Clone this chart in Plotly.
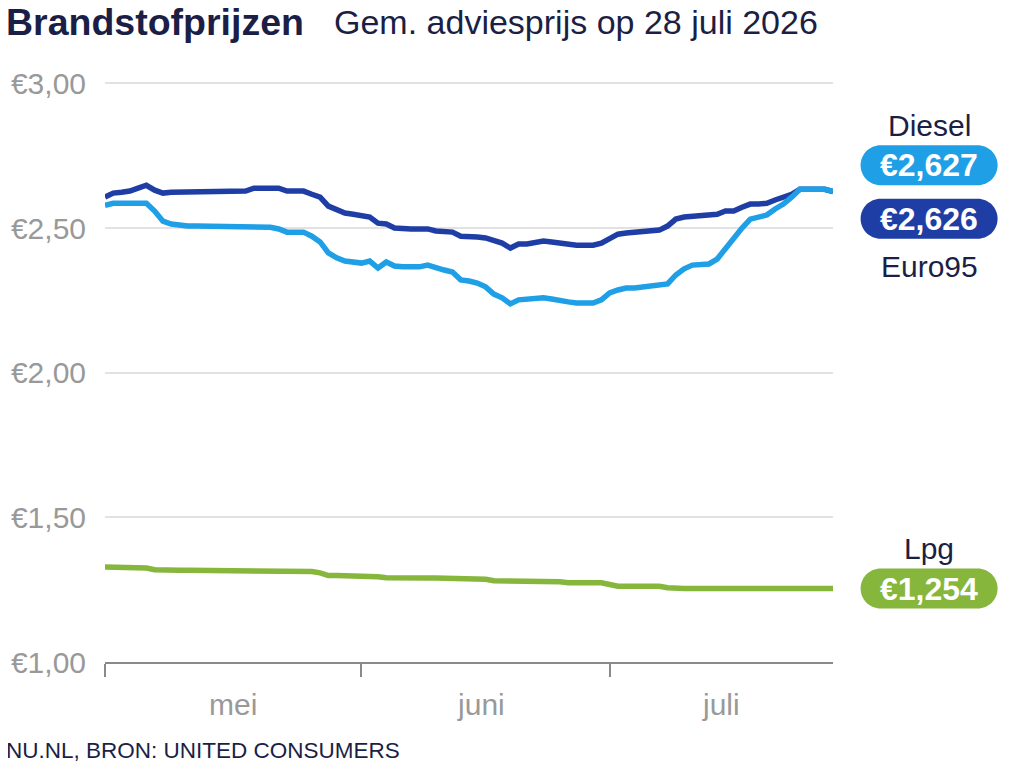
import pandas as pd
import plotly.graph_objects as go

# dagelijkse adviesprijzen, 1 mei t/m 28 juli 2026
dates = pd.date_range("2026-05-01", "2026-07-28", freq="D")

euro95 = [2.607, 2.621, 2.624, 2.628, 2.638, 2.648, 2.631, 2.621, 2.624, 2.624,
          2.624, 2.624, 2.628, 2.628, 2.628, 2.628, 2.628, 2.628, 2.638, 2.638,
          2.638, 2.638, 2.628, 2.628, 2.628, 2.617, 2.607, 2.576, 2.562, 2.552,
          2.548, 2.545, 2.538, 2.517, 2.514, 2.500, 2.497, 2.497, 2.497, 2.497,
          2.490, 2.490, 2.486, 2.472, 2.472, 2.469, 2.466, 2.459, 2.448, 2.431,
          2.445, 2.445, 2.448, 2.455, 2.452, 2.448, 2.445, 2.441, 2.441, 2.441,
          2.448, 2.462, 2.479, 2.483, 2.486, 2.486, 2.490, 2.493, 2.507, 2.531,
          2.538, 2.541, 2.541, 2.545, 2.548, 2.559, 2.559, 2.572, 2.583, 2.583,
          2.586, 2.597, 2.607, 2.617, 2.634, 2.634, 2.634, 2.634, 2.626]

diesel = [2.579, 2.586, 2.586, 2.586, 2.586, 2.586, 2.559, 2.524, 2.514, 2.510,
          2.507, 2.507, 2.507, 2.507, 2.507, 2.507, 2.507, 2.507, 2.507, 2.507,
          2.503, 2.497, 2.486, 2.486, 2.486, 2.472, 2.452, 2.414, 2.397, 2.386,
          2.383, 2.379, 2.386, 2.362, 2.383, 2.369, 2.366, 2.366, 2.366, 2.372,
          2.362, 2.355, 2.348, 2.321, 2.317, 2.310, 2.297, 2.272, 2.259, 2.238,
          2.252, 2.255, 2.259, 2.259, 2.255, 2.248, 2.245, 2.241, 2.241, 2.241,
          2.252, 2.276, 2.286, 2.293, 2.293, 2.297, 2.297, 2.303, 2.307, 2.338,
          2.359, 2.372, 2.376, 2.376, 2.393, 2.431, 2.469, 2.500, 2.531, 2.538,
          2.545, 2.566, 2.583, 2.607, 2.634, 2.634, 2.634, 2.634, 2.627]

lpg = [1.328, 1.328, 1.328, 1.328, 1.328, 1.325, 1.319, 1.317, 1.317, 1.317,
       1.317, 1.317, 1.317, 1.317, 1.317, 1.317, 1.317, 1.317, 1.317, 1.317,
       1.317, 1.317, 1.313, 1.313, 1.313, 1.313, 1.308, 1.299, 1.299, 1.299,
       1.299, 1.299, 1.299, 1.295, 1.291, 1.290, 1.290, 1.290, 1.290, 1.290,
       1.290, 1.290, 1.290, 1.290, 1.286, 1.286, 1.286, 1.281, 1.281, 1.281,
       1.281, 1.277, 1.277, 1.277, 1.277, 1.277, 1.274, 1.274, 1.274, 1.274,
       1.274, 1.268, 1.262, 1.262, 1.262, 1.262, 1.262, 1.262, 1.257, 1.254,
       1.254, 1.254, 1.254, 1.254, 1.254, 1.254, 1.254, 1.254, 1.254, 1.254,
       1.254, 1.254, 1.254, 1.254, 1.254, 1.254, 1.254, 1.254, 1.254]

month_pos = ["2026-05-16 12:00", "2026-06-15 12:00", "2026-07-14 12:00"]
month_text = ["mei", "juni", "juli"]
month_starts = ["2026-05-01", "2026-06-01", "2026-07-01"]
price_ticks = [1.0, 1.5, 2.0, 2.5, 3.0]

EUR = "\u20ac"
NAVY = "#1b1f45"
GREY = "#999999"
C_DIESEL = "#1e9fe6"
C_EURO = "#1f3ea5"
C_LPG = "#86b63c"
FONT = "Liberation Sans, Arial, sans-serif"


def pill(dy, w=137, h=40):
    # afgeronde badge, in pixels rond het ankerpunt
    r = h / 2
    a = w / 2 - r
    k = r * 0.552
    t, b = dy + r, dy - r
    return (f"M {-a},{b} L {a},{b} C {a + k},{b} {a + r},{dy - k} {a + r},{dy} "
            f"C {a + r},{dy + k} {a + k},{t} {a},{t} L {-a},{t} "
            f"C {-a - k},{t} {-a - r},{dy + k} {-a - r},{dy} "
            f"C {-a - r},{dy - k} {-a - k},{b} {-a},{b} Z")


def euro(v, dec=3):
    return EUR + f"{v:.{dec}f}".replace(".", ",")


fig = go.Figure()
fig.add_trace(go.Scatter(x=dates, y=euro95, mode="lines", name="Euro95",
                         line=dict(color=C_EURO, width=5.5)))
fig.add_trace(go.Scatter(x=dates, y=diesel, mode="lines", name="Diesel",
                         line=dict(color=C_DIESEL, width=5.5)))
fig.add_trace(go.Scatter(x=dates, y=lpg, mode="lines", name="Lpg",
                         line=dict(color=C_LPG, width=5.5)))

bx = 1.132
badges = [
    (diesel[-1], C_DIESEL, 26, "Diesel", 66),
    (euro95[-1], C_EURO, -27, "Euro95", -75),
    (lpg[-1], C_LPG, 0, "Lpg", 40),
]
for val, col, dy, label, ldy in badges:
    fig.add_shape(type="path", xref="paper", yref="y", xsizemode="pixel",
                  ysizemode="pixel", xanchor=bx, yanchor=val, path=pill(dy),
                  fillcolor=col, line_width=0, layer="above")
    fig.add_annotation(x=bx, y=val, xref="paper", yref="y", yshift=dy,
                       xanchor="center", yanchor="middle",
                       text="<b>" + euro(val) + "</b>", showarrow=False,
                       font=dict(family=FONT, size=32, color="white"))
    fig.add_annotation(x=bx, y=val, xref="paper", yref="y", yshift=ldy,
                       xanchor="center", yanchor="middle",
                       text=label, showarrow=False,
                       font=dict(family=FONT, size=30, color=NAVY))

fig.add_annotation(x=-0.139, y=1.1034, xref="paper", yref="paper",
                   xanchor="left", yanchor="middle", showarrow=False,
                   text="<b>Brandstofprijzen</b>",
                   font=dict(family=FONT, size=37.5, color=NAVY))
fig.add_annotation(x=0.3118, y=1.1034, xref="paper", yref="paper",
                   xanchor="left", yanchor="middle", showarrow=False,
                   text="Gem. adviesprijs op 28 juli 2026",
                   font=dict(family=FONT, size=34, color=NAVY))
fig.add_annotation(x=-0.139, y=-0.152, xref="paper", yref="paper",
                   xanchor="left", yanchor="middle", showarrow=False,
                   text="NU.NL, BRON: UNITED CONSUMERS",
                   font=dict(family=FONT, size=22.5, color=NAVY))

# pagina heeft 8px body-marge, dus figuur iets kleiner dan het venster
fig.update_layout(
    width=1016, height=760,
    margin=dict(l=97, r=191, t=74, b=106),
    plot_bgcolor="white", paper_bgcolor="white",
    showlegend=False, hovermode=False,
    font=dict(family=FONT),
)
fig.update_xaxes(
    range=["2026-05-01", "2026-07-28"], automargin=False,
    tickvals=month_pos, ticktext=month_text,
    ticks="outside", ticklen=0, ticklabelstandoff=15,
    tickfont=dict(size=30, color=GREY),
    showgrid=False, zeroline=False,
    showline=True, linecolor="#8a8a8a", linewidth=2,
    minor=dict(tickvals=month_starts, ticks="outside", ticklen=13,
               tickcolor="#8a8a8a", tickwidth=2, showgrid=False),
)
fig.update_yaxes(
    range=[1, 3.005], automargin=False, tickvals=price_ticks,
    ticktext=[euro(v, 2) for v in price_ticks],
    tickfont=dict(size=30, color=GREY),
    ticks="outside", ticklen=0, ticklabelstandoff=12,
    showgrid=True, gridcolor="#e2e2e2", gridwidth=2,
    zeroline=False, showline=False,
)

fig.write_html("out.html")
